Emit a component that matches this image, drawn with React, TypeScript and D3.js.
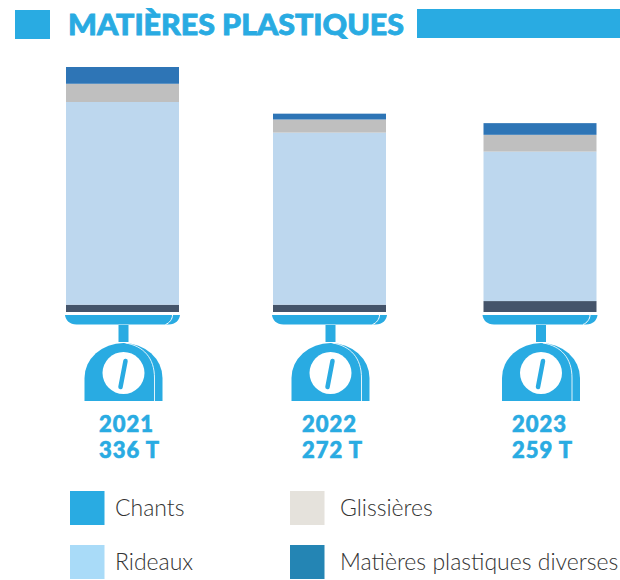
import React from "react";
import * as d3 from "d3";

const years = ["2021", "2022", "2023"];
const totals = ["336 T", "272 T", "259 T"];
const seriesNames = ["Chants", "Rideaux", "Glissières", "Matières plastiques diverses"];
const chants = [10, 10, 15];
const rideaux = [278, 236, 205];
const glissieres = [25, 18, 23];
const diverses = [23, 8, 16];
const barColors = ["#44546A", "#BDD7EE", "#BFBFBF", "#2E75B6"];
const legendColors = ["#29ABE2", "#A9DBF8", "#E5E2DC", "#2485B4"];

const BLUE = "#29ABE2";
const rows = years.map((y, i) => ({ year: y, chants: chants[i], rideaux: rideaux[i], glissieres: glissieres[i], diverses: diverses[i] }));
const keys = ["chants", "rideaux", "glissieres", "diverses"];
const stacked = d3.stack<any>().keys(keys)(rows);

const x = d3.scaleOrdinal<string, number>().domain(years).range([122.5, 329.5, 540]);
const labelX = d3.scaleOrdinal<string, number>().domain(years).range([99, 302, 512]);
const y = d3.scaleLinear().domain([0, 336]).range([312, 67]);
const barW = 113;
const colX = d3.scaleOrdinal<number, number>().domain([0, 1]).range([70, 290]);
const rowY = d3.scaleOrdinal<number, number>().domain([0, 1]).range([491, 545]);

function Scale({ cx }: { cx: number }) {
  const c = cx + 1;
  return (
    <g>
      <path d={`M${cx - 57.5},315 H${cx + 57.5} C${cx + 57},320 ${cx + 53},324.5 ${cx + 46},324.5 H${cx - 46} C${cx - 53},324.5 ${cx - 57},320 ${cx - 57.5},315 Z`} fill={BLUE} />
      <path d={`M${cx + 50},315 C${cx + 50},319 ${cx + 47},323 ${cx + 43},324.5`} fill="none" stroke="#fff" strokeWidth={1} />
      <rect x={c - 5} y={325} width={10} height={17} fill={BLUE} />
      <path d={`M${c - 39},401 V378 A39 35 0 0 1 ${c + 39},378 V401 Z`} fill={BLUE} />
      <path d={`M${c + 2},343 C${c + 20},346 ${c + 31},358 ${c + 31},378 V401`} fill="none" stroke="#fff" strokeWidth={1} opacity={0.85} />
      <circle cx={c} cy={373} r={21} fill="#fff" />
      <line x1={c - 3} y1={387} x2={c + 2} y2={361} stroke={BLUE} strokeWidth={4.5} strokeLinecap="round" />
    </g>
  );
}

const labelStyle = { fontFamily: "Lato", fontWeight: 900, fontSize: 22, letterSpacing: 1, fill: BLUE, stroke: BLUE, strokeWidth: 0.6 };

export default function App() {
  return (
    <svg width={620} height={580} style={{ position: "absolute", left: 0, top: 0, background: "#fff" }}>
      <rect x={15} y={10} width={35} height={29} fill={BLUE} />
      <rect x={417} y={9} width={203} height={29} fill={BLUE} />
      <text x={68} y={35} fontFamily="Lato" fontWeight={900} fontSize={28} fill={BLUE} stroke={BLUE} strokeWidth={0.8} textLength={336} lengthAdjust="spacingAndGlyphs">MATIÈRES PLASTIQUES</text>

      {stacked.map((s, si) => (
        <g key={s.key} fill={barColors[si]}>
          {s.map((d, i) => (
            <rect key={i} x={x(years[i]) - barW / 2} y={y(d[1])} width={barW} height={y(d[0]) - y(d[1])} />
          ))}
        </g>
      ))}

      {years.map((yr, i) => (
        <g key={yr}>
          <Scale cx={x(yr)} />
          <text x={labelX(yr)} y={432} {...labelStyle}>{yr}</text>
          <text x={labelX(yr)} y={458} {...labelStyle}>{totals[i]}</text>
        </g>
      ))}

      {seriesNames.map((n, i) => {
        const col = Math.floor(i / 2);
        const row = i % 2;
        return (
          <g key={n}>
            <rect x={colX(col)} y={rowY(row)} width={34.5} height={34} fill={legendColors[i]} />
            <text x={colX(col) + (col ? 50 : 45)} y={rowY(row) + 25} fontFamily="Lato" fontWeight={300} fontSize={23} fill="#333">{n}</text>
          </g>
        );
      })}
    </svg>
  );
}
